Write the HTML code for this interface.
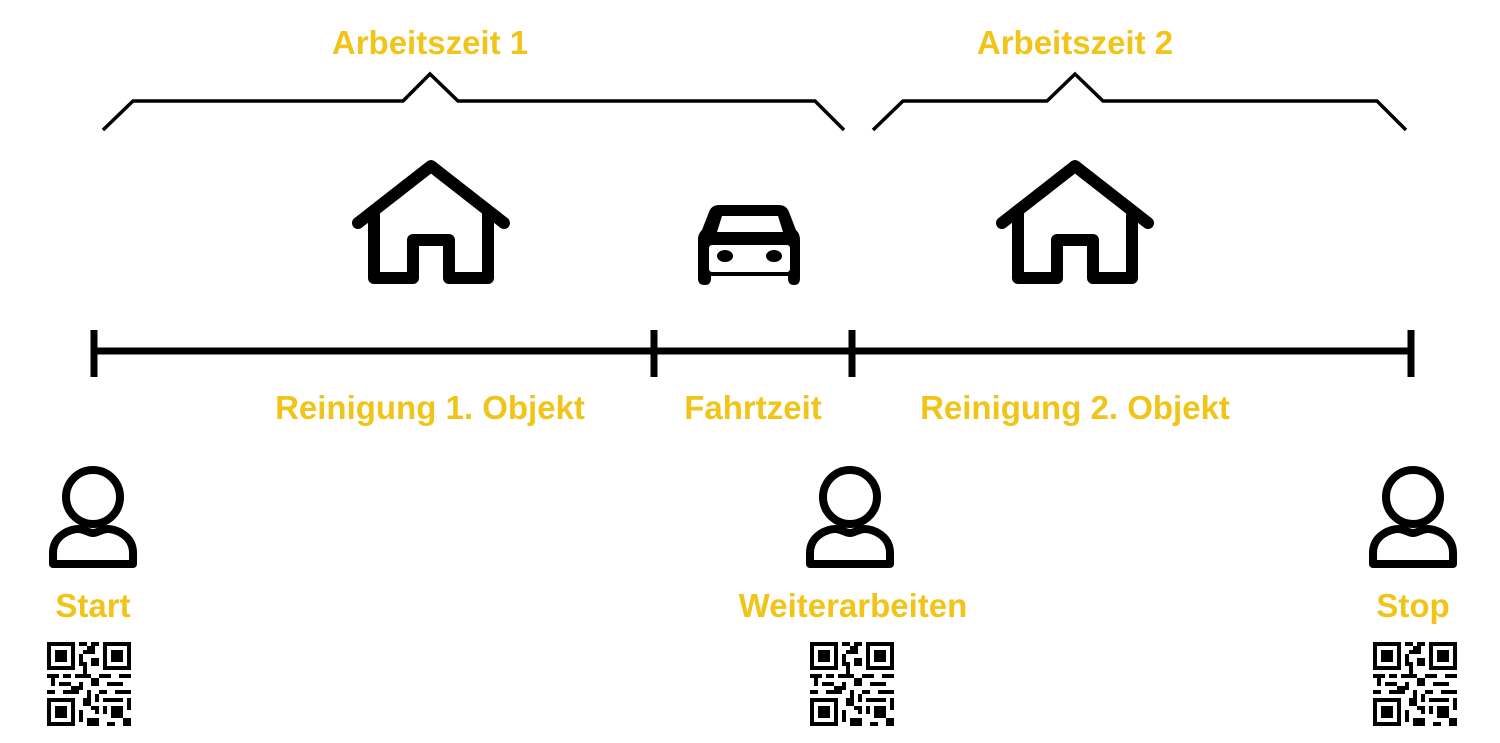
<!DOCTYPE html>
<html><head><meta charset="utf-8"><style>
html,body{margin:0;padding:0;background:#fff;}
svg{display:block}
text{font-family:"Liberation Sans",sans-serif;font-weight:bold;fill:#f0c419;font-size:33px;text-anchor:middle}
</style></head><body>
<svg width="1500" height="743" viewBox="0 0 1500 743" xmlns="http://www.w3.org/2000/svg">
<defs>
<g id="house" fill="none" stroke="#000" stroke-width="12" stroke-linecap="round" stroke-linejoin="round">
<polyline points="-73,60 0,3 73,60"/>
<polyline points="-57,48 -57,115 -18,115 -18,77 18,77 18,115 57,115 57,48"/>
</g>
<g id="person" fill="none" stroke="#000" stroke-width="8" stroke-linejoin="round">
<circle cx="0" cy="497" r="27"/>
<path d="M-40,564 L-40,553 C-40,535 -22,529 -15,529 C-8,529 -5,533 0,533 C5,533 8,529 15,529 C22,529 40,535 40,553 L40,564 Z"/>
</g>
<g id="qr" fill="#000">
<path d="M0,0h28v28h-28zM4,4v20h20v-20zM8,8h12v12h-12z" fill-rule="evenodd"/>
<path d="M56,0h28v28h-28zM60,4v20h20v-20zM64,8h12v12h-12z" fill-rule="evenodd"/>
<path d="M0,56h28v28h-28zM4,60v20h20v-20zM8,64h12v12h-12z" fill-rule="evenodd"/>
<rect x="32" y="0" width="8" height="4"/><rect x="44" y="0" width="8" height="4"/>
<rect x="36" y="8" width="12" height="4"/><rect x="32" y="12" width="4" height="8"/>
<rect x="44" y="16" width="8" height="8"/><rect x="36" y="24" width="4" height="8"/>
<rect x="40" y="4" width="8" height="4"/><rect x="32" y="20" width="8" height="4"/>
<rect x="0" y="32" width="12" height="4"/><rect x="16" y="32" width="8" height="4"/>
<rect x="28" y="32" width="16" height="4"/><rect x="52" y="32" width="12" height="4"/>
<rect x="72" y="32" width="12" height="4"/><rect x="4" y="36" width="4" height="8"/>
<rect x="12" y="40" width="12" height="4"/><rect x="32" y="40" width="4" height="8"/>
<rect x="44" y="36" width="8" height="8"/><rect x="60" y="40" width="16" height="4"/>
<rect x="0" y="48" width="8" height="4"/><rect x="16" y="48" width="16" height="4"/>
<rect x="40" y="48" width="4" height="8"/><rect x="52" y="48" width="8" height="4"/>
<rect x="68" y="48" width="16" height="4"/><rect x="36" y="56" width="8" height="8"/>
<rect x="56" y="56" width="20" height="4"/><rect x="32" y="68" width="4" height="12"/>
<rect x="44" y="64" width="8" height="4"/><rect x="56" y="64" width="4" height="8"/>
<rect x="64" y="64" width="12" height="12"/><rect x="40" y="76" width="12" height="8"/>
<rect x="60" y="80" width="8" height="4"/><rect x="76" y="76" width="8" height="8"/>
<rect x="48" y="68" width="4" height="4"/><rect x="80" y="56" width="4" height="12"/>
<rect x="24" y="44" width="8" height="4"/><rect x="48" y="52" width="4" height="8"/>
</g>
</defs>

<text x="430" y="54">Arbeitszeit 1</text>
<text x="1075" y="54">Arbeitszeit 2</text>
<g fill="none" stroke="#000" stroke-width="3.5">
<polyline points="103,130 133,101 403,101 430,74 458,101 815,101 844,130"/>
<polyline points="873,130 903,101 1047,101 1075,74 1103,101 1377,101 1406,130"/>
</g>

<use href="#house" x="431" y="163"/>
<use href="#house" x="1075" y="163"/>

<path d="M720,205 C714,205 711,207 709,212 L702,230 C699,233 698,236 698,240 L698,278 C698,283 700,285 705,285 C709,285 711,283 711,278 L711,276 L788,276 L788,278 C788,283 790,285 794,285 C798,285 800,283 800,278 L800,240 C800,236 799,233 796,230 L789,212 C787,207 784,205 778,205 Z" fill="#000"/>
<path d="M722,216 L778,216 L783,232 L717,232 Z" fill="#fff"/>
<rect x="709" y="245" width="81" height="27" rx="3" fill="#fff"/>
<ellipse cx="725" cy="256" rx="8" ry="6" fill="#000"/>
<ellipse cx="774" cy="256" rx="8" ry="6" fill="#000"/>

<g stroke="#000" stroke-width="7">
<line x1="93" y1="351" x2="1411" y2="351"/>
<line x1="94" y1="330" x2="94" y2="377"/>
<line x1="654" y1="330" x2="654" y2="377"/>
<line x1="852" y1="330" x2="852" y2="377"/>
<line x1="1411" y1="330" x2="1411" y2="377"/>
</g>

<text x="430" y="419">Reinigung 1. Objekt</text>
<text x="753" y="419">Fahrtzeit</text>
<text x="1075" y="419">Reinigung 2. Objekt</text>

<use href="#person" x="93"/>
<use href="#person" x="850"/>
<use href="#person" x="1413"/>

<text x="93" y="617">Start</text>
<text x="853" y="617">Weiterarbeiten</text>
<text x="1413" y="617">Stop</text>

<use href="#qr" x="47" y="642"/>
<use href="#qr" x="810" y="642"/>
<use href="#qr" x="1373" y="642"/>
</svg>
</body></html>
